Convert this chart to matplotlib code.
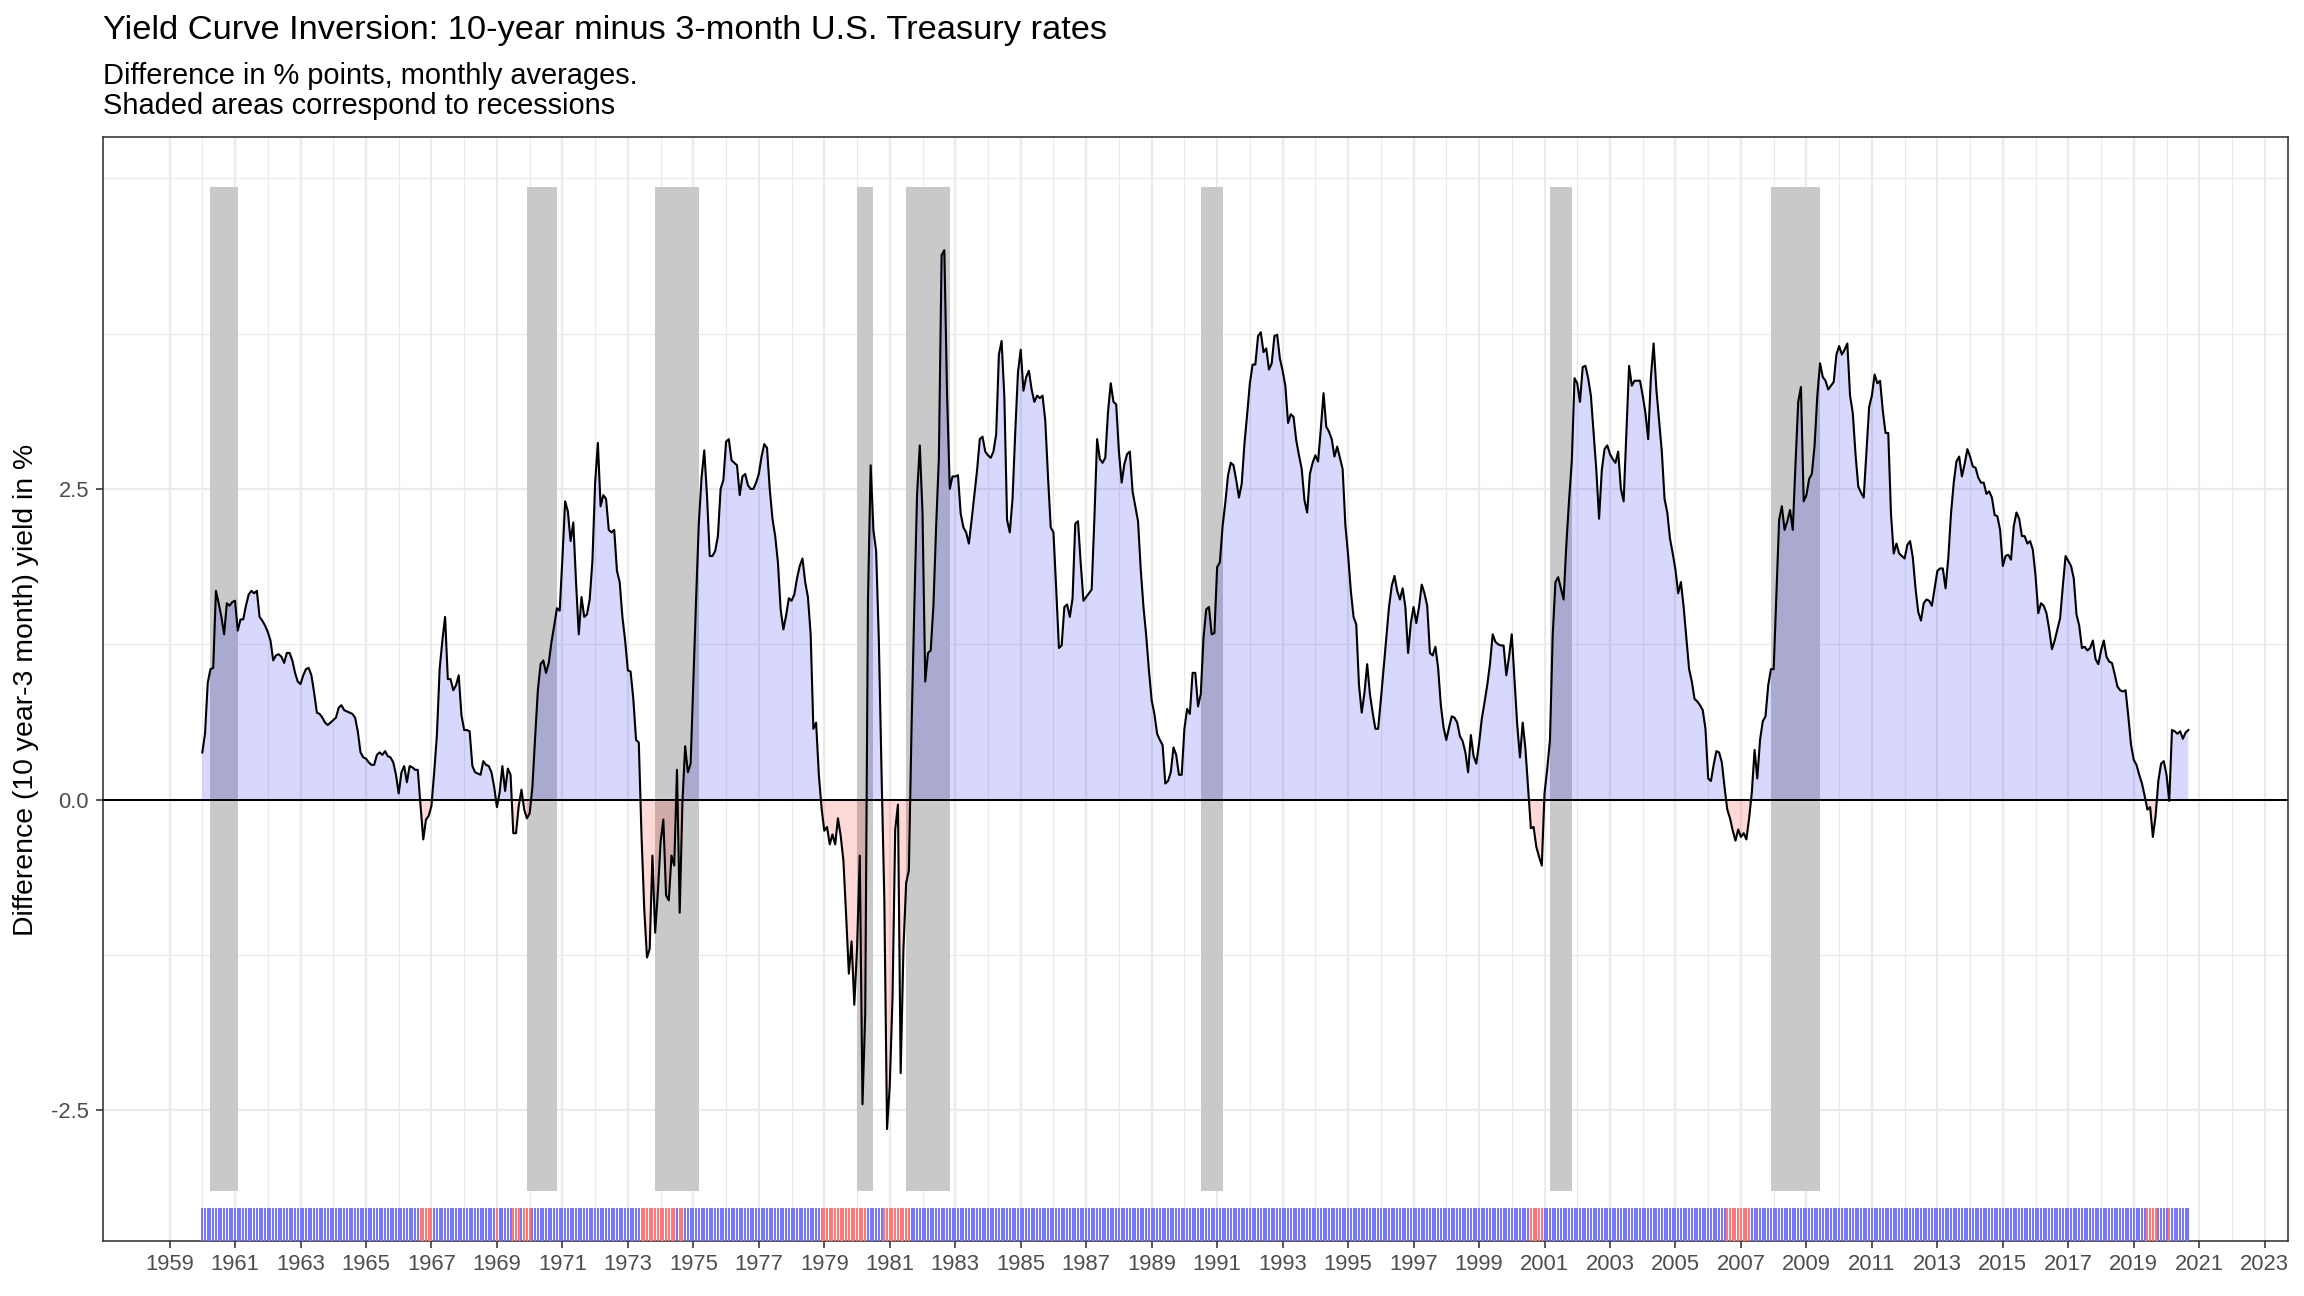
import numpy as np
import matplotlib
matplotlib.use("Agg")
import matplotlib.pyplot as plt
import matplotlib.transforms as mtransforms

plt.rcParams['font.family'] = ['Liberation Sans', 'DejaVu Sans']
plt.rcParams['axes.unicode_minus'] = False

# monthly 10y - 3m spread, % points, Jan 1960 .. Sep 2020
spread_1960s = [
    0.38, 0.53, 0.94, 1.05, 1.06, 1.68, 1.58, 1.47, 1.33, 1.58, 1.56, 1.59,
    1.60, 1.36, 1.45, 1.45, 1.56, 1.65, 1.68, 1.66, 1.68, 1.47, 1.44, 1.40,
    1.35, 1.28, 1.12, 1.16, 1.17, 1.15, 1.10, 1.18, 1.18, 1.12, 1.02, 0.95,
    0.93, 1.00, 1.05, 1.06, 1.00, 0.86, 0.70, 0.69, 0.66, 0.62, 0.60, 0.62,
    0.64, 0.66, 0.74, 0.76, 0.72, 0.71, 0.70, 0.69, 0.66, 0.55, 0.38, 0.34,
    0.33, 0.30, 0.28, 0.28, 0.36, 0.38, 0.36, 0.39, 0.35, 0.34, 0.30, 0.20,
    0.05, 0.22, 0.27, 0.14, 0.27, 0.26, 0.24, 0.24, -0.05, -0.32, -0.16, -0.13,
    -0.05, 0.22, 0.52, 1.05, 1.28, 1.47, 0.97, 0.97, 0.88, 0.92, 1.00, 0.68,
    0.56, 0.56, 0.55, 0.27, 0.22, 0.21, 0.20, 0.31, 0.28, 0.27, 0.22, 0.10,
    -0.06, 0.06, 0.27, 0.07, 0.25, 0.20, -0.27, -0.27, -0.05, 0.08, -0.08, -0.15,
]
spread_1970s = [
    -0.11, 0.10, 0.50, 0.88, 1.09, 1.12, 1.02, 1.10, 1.27, 1.40, 1.54, 1.52,
    1.94, 2.40, 2.32, 2.08, 2.23, 1.75, 1.33, 1.63, 1.47, 1.49, 1.61, 1.92,
    2.55, 2.87, 2.36, 2.45, 2.42, 2.17, 2.15, 2.17, 1.84, 1.75, 1.47, 1.28,
    1.04, 1.03, 0.81, 0.48, 0.46, -0.29, -0.88, -1.27, -1.20, -0.45, -1.07, -0.74,
    -0.34, -0.16, -0.77, -0.81, -0.45, -0.53, 0.24, -0.91, -0.02, 0.43, 0.22, 0.29,
    0.95, 1.61, 2.22, 2.59, 2.81, 2.45, 1.96, 1.96, 2.00, 2.12, 2.50, 2.57,
    2.88, 2.90, 2.73, 2.71, 2.69, 2.45, 2.60, 2.62, 2.53, 2.50, 2.50, 2.55,
    2.62, 2.76, 2.86, 2.83, 2.50, 2.26, 2.12, 1.91, 1.53, 1.37, 1.48, 1.62,
    1.60, 1.65, 1.78, 1.88, 1.94, 1.75, 1.63, 1.33, 0.57, 0.62, 0.20, -0.07,
    -0.25, -0.22, -0.36, -0.28, -0.36, -0.15, -0.29, -0.49, -0.93, -1.40, -1.14, -1.65,
]
spread_1980s = [
    -1.20, -0.45, -2.45, -1.73, 1.60, 2.69, 2.17, 2.00, 1.28, 0.20, -0.80, -2.65,
    -2.30, -1.60, -0.24, -0.04, -2.20, -1.21, -0.67, -0.57, 0.60, 1.55, 2.45, 2.85,
    2.31, 0.95, 1.18, 1.20, 1.56, 2.20, 2.75, 4.38, 4.42, 3.26, 2.50, 2.60,
    2.60, 2.61, 2.30, 2.19, 2.15, 2.06, 2.25, 2.45, 2.65, 2.90, 2.92, 2.80,
    2.77, 2.75, 2.80, 2.94, 3.58, 3.69, 3.24, 2.25, 2.15, 2.42, 2.96, 3.44,
    3.62, 3.29, 3.40, 3.45, 3.30, 3.20, 3.25, 3.23, 3.25, 3.05, 2.60, 2.19,
    2.15, 1.70, 1.22, 1.24, 1.55, 1.57, 1.47, 1.62, 2.22, 2.24, 1.90, 1.60,
    1.63, 1.66, 1.69, 2.26, 2.90, 2.74, 2.71, 2.75, 3.12, 3.35, 3.20, 3.18,
    2.80, 2.55, 2.70, 2.78, 2.80, 2.48, 2.36, 2.24, 1.85, 1.55, 1.32, 1.04,
    0.80, 0.69, 0.53, 0.48, 0.44, 0.13, 0.15, 0.22, 0.42, 0.36, 0.20, 0.20,
]
spread_1990s = [
    0.57, 0.73, 0.69, 1.02, 1.02, 0.75, 0.85, 1.30, 1.53, 1.55, 1.33, 1.34,
    1.87, 1.91, 2.20, 2.39, 2.61, 2.71, 2.69, 2.57, 2.43, 2.54, 2.86, 3.10,
    3.35, 3.50, 3.50, 3.73, 3.76, 3.60, 3.63, 3.46, 3.51, 3.73, 3.74, 3.55,
    3.45, 3.33, 3.03, 3.10, 3.08, 2.89, 2.77, 2.66, 2.41, 2.31, 2.62, 2.71,
    2.77, 2.72, 2.98, 3.27, 3.00, 2.96, 2.90, 2.76, 2.84, 2.75, 2.66, 2.21,
    1.97, 1.68, 1.47, 1.41, 0.92, 0.70, 0.86, 1.09, 0.85, 0.70, 0.57, 0.57,
    0.80, 1.05, 1.30, 1.55, 1.72, 1.80, 1.68, 1.61, 1.70, 1.55, 1.18, 1.42,
    1.55, 1.42, 1.55, 1.73, 1.66, 1.56, 1.18, 1.16, 1.23, 1.06, 0.76, 0.58,
    0.48, 0.58, 0.67, 0.66, 0.62, 0.51, 0.47, 0.38, 0.22, 0.52, 0.35, 0.29,
    0.45, 0.65, 0.78, 0.92, 1.09, 1.33, 1.27, 1.25, 1.24, 1.24, 1.00, 1.15,
]
spread_2000s = [
    1.33, 0.97, 0.60, 0.34, 0.62, 0.41, 0.09, -0.23, -0.22, -0.38, -0.46, -0.53,
    0.05, 0.25, 0.48, 1.32, 1.75, 1.79, 1.70, 1.61, 2.05, 2.41, 2.72, 3.39,
    3.35, 3.20, 3.48, 3.49, 3.39, 3.25, 2.95, 2.65, 2.26, 2.65, 2.82, 2.85,
    2.78, 2.74, 2.71, 2.80, 2.50, 2.40, 2.95, 3.49, 3.33, 3.37, 3.37, 3.37,
    3.25, 3.11, 2.90, 3.40, 3.67, 3.30, 3.05, 2.80, 2.42, 2.31, 2.10, 1.98,
    1.85, 1.66, 1.75, 1.55, 1.30, 1.05, 0.95, 0.81, 0.79, 0.76, 0.72, 0.57,
    0.17, 0.15, 0.28, 0.39, 0.38, 0.30, 0.10, -0.08, -0.15, -0.25, -0.33, -0.24,
    -0.30, -0.27, -0.32, -0.15, 0.06, 0.40, 0.17, 0.48, 0.63, 0.67, 0.92, 1.05,
    1.05, 1.65, 2.25, 2.36, 2.17, 2.24, 2.33, 2.17, 2.70, 3.20, 3.32, 2.40,
    2.45, 2.58, 2.62, 2.85, 3.25, 3.51, 3.40, 3.37, 3.30, 3.33, 3.36, 3.58,
]
spread_2010s = [
    3.65, 3.58, 3.62, 3.67, 3.25, 3.11, 2.78, 2.52, 2.47, 2.43, 2.80, 3.16,
    3.25, 3.42, 3.35, 3.37, 3.13, 2.95, 2.95, 2.30, 1.98, 2.06, 1.98, 1.96,
    1.94, 2.05, 2.08, 1.95, 1.70, 1.51, 1.44, 1.58, 1.61, 1.60, 1.56, 1.70,
    1.84, 1.86, 1.86, 1.70, 1.94, 2.30, 2.55, 2.72, 2.76, 2.60, 2.70, 2.82,
    2.76, 2.68, 2.67, 2.59, 2.55, 2.55, 2.46, 2.48, 2.43, 2.29, 2.28, 2.17,
    1.88, 1.96, 1.97, 1.93, 2.20, 2.31, 2.26, 2.12, 2.12, 2.06, 2.08, 2.01,
    1.80, 1.50, 1.58, 1.56, 1.50, 1.37, 1.21, 1.28, 1.37, 1.46, 1.72, 1.96,
    1.92, 1.88, 1.78, 1.49, 1.40, 1.22, 1.23, 1.20, 1.22, 1.28, 1.13, 1.09,
    1.20, 1.28, 1.15, 1.11, 1.10, 1.01, 0.91, 0.88, 0.87, 0.88, 0.67, 0.44,
    0.32, 0.28, 0.20, 0.13, 0.03, -0.08, -0.06, -0.30, -0.13, 0.15, 0.29, 0.31,
]
spread_2020 = [0.20, -0.01, 0.56, 0.55, 0.53, 0.55, 0.49, 0.54, 0.56]

# NBER recessions (start month, end month)
recessions = [
    ("1960-04", "1961-02"), ("1969-12", "1970-11"), ("1973-11", "1975-03"),
    ("1980-01", "1980-07"), ("1981-07", "1982-11"), ("1990-07", "1991-03"),
    ("2001-03", "2001-11"), ("2007-12", "2009-06"),
]
rect_bottom, rect_top = -3.15, 4.93

year_ticks = list(range(1959, 2024, 2))
year_minor = list(range(1960, 2023, 2))
y_ticks = [-2.5, 0.0, 2.5]
y_minor = [-1.25, 1.25, 3.75, 5.0]


def to_year(s):
    y, m = s.split("-")
    return int(y) + (int(m) - 1) / 12


spread = np.array(spread_1960s + spread_1970s + spread_1980s + spread_1990s
                  + spread_2000s + spread_2010s + spread_2020)
months = 1960 + np.arange(len(spread)) / 12.0

fig = plt.figure(figsize=(16, 9), dpi=144)
ax = fig.add_axes([0.0447, 0.0421, 0.9482, 0.8525])

# recession bands
for start, end in recessions:
    ax.fill_between([to_year(start), to_year(end)], rect_bottom, rect_top,
                    color="#C9C9C9", lw=0, zorder=1)

ax.fill_between(months, 0, spread, where=spread >= 0, interpolate=True,
                color="blue", alpha=0.153, lw=0, zorder=2)
ax.fill_between(months, 0, spread, where=spread <= 0, interpolate=True,
                color="red", alpha=0.153, lw=0, zorder=2)
ax.plot(months, spread, color="black", lw=1.05, zorder=3)
ax.axhline(0, color="black", lw=1.0, zorder=4)

# rug
rug_colors = np.where(spread < 0, "#FF7676", "#7676FF")
trans = mtransforms.blended_transform_factory(ax.transData, ax.transAxes)
ax.vlines(months, 0, 0.03, colors=rug_colors, lw=1.0, transform=trans, zorder=3)

span = months[-1] - months[0]
ax.set_xlim(months[0] - 0.05 * span, months[-1] + 0.05 * span)
yr = rect_top - rect_bottom
ax.set_ylim(rect_bottom - 0.05 * yr, rect_top + 0.05 * yr)

ax.set_xticks(year_ticks)
ax.set_xticklabels([str(y) for y in year_ticks])
ax.set_xticks(year_minor, minor=True)
ax.set_yticks(y_ticks)
ax.set_yticklabels(["-2.5", "0.0", "2.5"])
ax.set_yticks(y_minor, minor=True)

ax.grid(True, which="major", color="#EBEBEB", lw=1.1, zorder=0)
ax.grid(True, which="minor", color="#EBEBEB", lw=0.6, zorder=0)
ax.set_axisbelow(True)
ax.tick_params(which="major", length=3.5, width=0.8, color="#333333",
               labelcolor="#4D4D4D", labelsize=11)
ax.tick_params(axis="x", pad=3)
ax.tick_params(axis="y", pad=3.5)
ax.tick_params(which="minor", length=0)
for s in ax.spines.values():
    s.set_color("#333333")
    s.set_linewidth(0.8)

fig.text(0.0447, 1 - 39.3 / 1296, "Yield Curve Inversion: 10-year minus 3-month U.S. Treasury rates",
         fontsize=17.2, ha="left", va="baseline")
fig.text(0.0447, 1 - 84 / 1296, "Difference in % points, monthly averages.",
         fontsize=14.5, ha="left", va="baseline")
fig.text(0.0447, 1 - 114 / 1296, "Shaded areas correspond to recessions",
         fontsize=14.5, ha="left", va="baseline")
fig.text(26 / 2304, 0.468, "Difference (10 year-3 month) yield in %",
         fontsize=14.2, rotation=90, ha="center", va="center")

fig.savefig("out.png", dpi=144)
